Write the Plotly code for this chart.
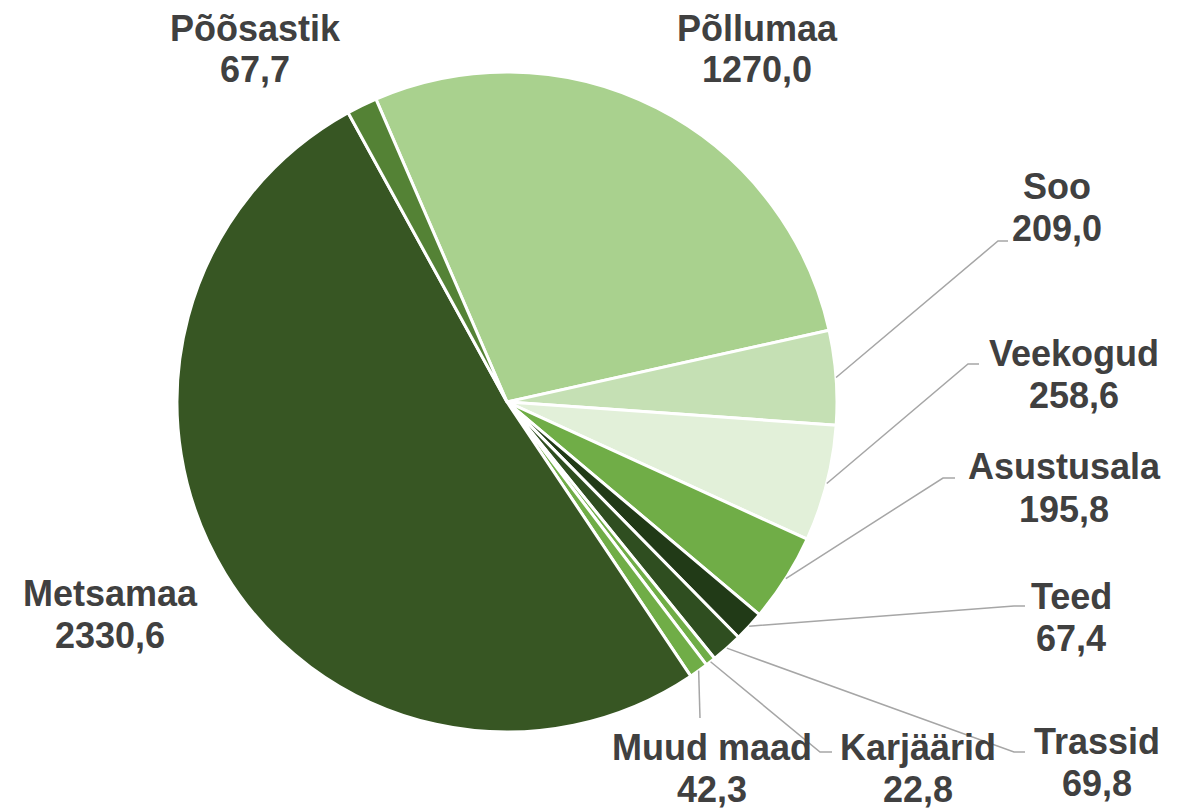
import math
import plotly.graph_objects as go

# ---- data ----
categories = ["Põllumaa", "Soo", "Veekogud", "Asustusala", "Teed", "Trassid",
              "Karjäärid", "Muud maad", "Metsamaa", "Põõsastik"]
values = [1270.0, 209.0, 258.6, 195.8, 67.4, 69.8, 22.8, 42.3, 2330.6, 67.7]
value_labels = ["1270,0", "209,0", "258,6", "195,8", "67,4", "69,8",
                "22,8", "42,3", "2330,6", "67,7"]
colors = ["#A9D18E", "#C5E0B4", "#E2F0D9", "#70AD47", "#213A17", "#2F4E20",
          "#70AD47", "#70AD47", "#375623", "#548235"]

W, H = 1186, 808
CX, CY, R = 507, 402, 330          # pie centre / radius in pixels
ROTATION = -23.4                   # start angle (clockwise from 12 o'clock)

# label placement (pixel centres: x, first-line y, second-line y)
label_pos = {
    "Põõsastik": (255, 28, 70),
    "Põllumaa": (757, 28, 70),
    "Soo": (1057, 186, 228),
    "Veekogud": (1074, 353, 395),
    "Asustusala": (1064, 467, 509),
    "Teed": (1071, 596, 638),
    "Trassid": (1097, 741, 783),
    "Karjäärid": (918, 747, 789),
    "Muud maad": (712, 747, 789),
    "Metsamaa": (110, 593, 635),
}
# leader line elbow + end points (pixels)
leaders = {
    "Soo": [(998, 241), (1008, 241)],
    "Veekogud": [(968, 364), (979, 364)],
    "Asustusala": [(943, 478), (955, 478)],
    "Teed": [(1014, 606), (1025, 606)],
    "Trassid": [(1014, 752), (1025, 752)],
    "Karjäärid": [(820, 752), (832, 752)],
    "Muud maad": [(700, 718)],
}


def px(x):
    return x / W


def py(y):
    return 1 - y / H


fig = go.Figure(go.Pie(
    labels=categories,
    values=values,
    sort=False,
    direction="clockwise",
    rotation=ROTATION,
    marker=dict(colors=colors, line=dict(color="white", width=3)),
    textinfo="none",
    hoverinfo="label+value",
    domain=dict(x=[(CX - R) / W, (CX + R) / W], y=[py(CY + R), py(CY - R)]),
))

font = dict(family="Liberation Sans, Arial, sans-serif", size=36, color="#404040")
annotations = []
for name, val in zip(categories, value_labels):
    x, y1, y2 = label_pos[name]
    for txt, yy in ((f"<b>{name}</b>", y1), (f"<b>{val}</b>", y2)):
        annotations.append(dict(x=px(x), y=py(yy), xref="paper", yref="paper",
                                text=txt, showarrow=False, font=font,
                                xanchor="center", yanchor="middle"))

# leader lines start at the slice mid-angle on the rim
total = sum(values)
shapes = []
cum = 0.0
for name, v in zip(categories, values):
    mid = ROTATION + (cum + v / 2) / total * 360.0
    cum += v
    if name not in leaders:
        continue
    a = math.radians(mid)
    pts = [(CX + R * math.sin(a), CY - R * math.cos(a))] + leaders[name]
    path = "M " + " L ".join(f"{px(x):.5f},{py(y):.5f}" for x, y in pts)
    shapes.append(dict(type="path", path=path, xref="paper", yref="paper",
                       line=dict(color="#A6A6A6", width=1.5)))

fig.update_layout(
    width=W, height=H,
    margin=dict(l=0, r=0, t=0, b=0),
    paper_bgcolor="white", plot_bgcolor="white",
    showlegend=False,
    annotations=annotations,
    shapes=shapes,
)

fig.write_html("out.html",
               config={"displayModeBar": False},
               post_script="document.body.style.margin='0';"
                           "document.body.style.overflow='hidden';")
